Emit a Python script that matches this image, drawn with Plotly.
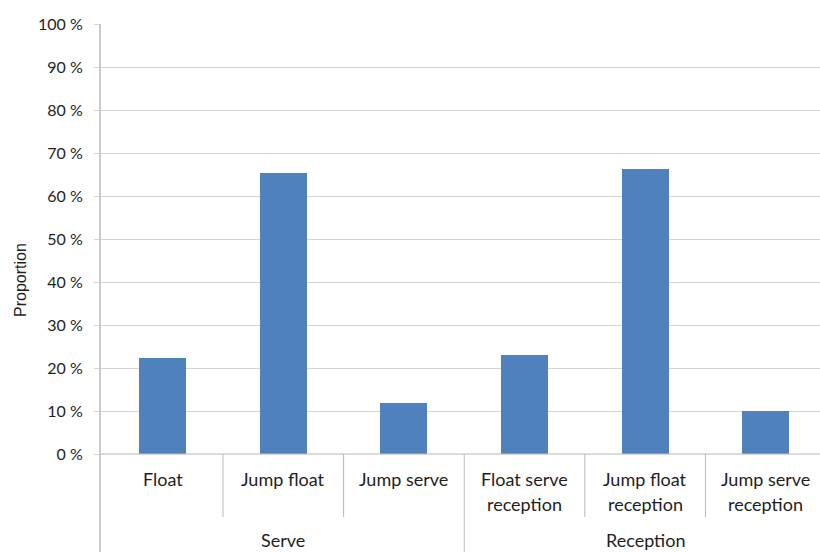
import plotly.graph_objects as go

# Serve / reception type proportions (%)
categories = ["Float", "Jump float", "Jump serve",
              "Float serve<br>reception", "Jump float<br>reception", "Jump serve<br>reception"]
proportions = [22.3, 65.4, 11.8, 23.0, 66.3, 10.1]
groups = ["Serve", "Reception"]
group_sizes = [3, 3]
y_ticks = list(range(0, 101, 10))
y_tick_text = [f"{v} %" for v in y_ticks]

W, H = 820, 552
ML, MT, MB = 100, 24, 98
plot_h = H - MT - MB

BAR = "#4F81BD"
GRID = "#d4d4d4"
AXIS = "#b8b8b8"
TXT = "#1e1e1e"
FONT = "Lato"

def py(px_from_top):
    """pixel row -> paper y"""
    return (H - MB - px_from_top) / plot_h

x_idx = list(range(len(categories)))

fig = go.Figure(go.Bar(
    x=x_idx, y=proportions, width=0.39,
    marker=dict(color=BAR, line=dict(width=0)),
))

shapes = []
annotations = []

# category labels
for i, cat in enumerate(categories):
    lines = cat.split("<br>")
    for j, ln in enumerate(lines):
        annotations.append(dict(
            x=i, y=py(479 + 25 * j), xref="x", yref="paper",
            text=ln, showarrow=False, xanchor="center", yanchor="middle",
            font=dict(family=FONT, size=18, color=TXT)))

# boundaries between categories (short) and between groups (long)
group_edges = []
acc = 0
for n in group_sizes:
    acc += n
    group_edges.append(acc)
for k in range(1, len(categories) + 1):
    long_line = k in group_edges
    shapes.append(dict(
        type="line", xref="x", yref="paper",
        x0=k - 0.5, x1=k - 0.5, y0=0, y1=py(H if long_line else 517),
        line=dict(color=AXIS, width=1)))

# group labels
start = 0
for g, n in zip(groups, group_sizes):
    annotations.append(dict(
        x=start + (n - 1) / 2, y=py(540), xref="x", yref="paper",
        text=g, showarrow=False, xanchor="center", yanchor="middle",
        font=dict(family=FONT, size=18, color=TXT)))
    start += n

# left axis line running down through the category area
shapes.append(dict(type="line", xref="paper", yref="paper",
                   x0=0, x1=0, y0=1, y1=py(H), line=dict(color=AXIS, width=1.5)))
# baseline
shapes.append(dict(type="line", xref="paper", yref="paper",
                   x0=0, x1=1, y0=0, y1=0, line=dict(color=AXIS, width=1)))

# y-axis title
annotations.append(dict(
    x=(20 - ML) / (W - ML), y=py(280), xref="paper", yref="paper",
    text="Proportion", textangle=-90, showarrow=False,
    xanchor="center", yanchor="middle",
    font=dict(family="Liberation Sans", size=16, color=TXT)))

fig.update_layout(
    width=W, height=H,
    margin=dict(l=ML, r=0, t=MT, b=MB),
    paper_bgcolor="white", plot_bgcolor="white",
    showlegend=False,
    bargap=0,
    xaxis=dict(range=[-0.52, 5.45], showticklabels=False, showgrid=False,
               zeroline=False, showline=False, ticks=""),
    yaxis=dict(range=[0, 100], tickmode="array", tickvals=y_ticks, ticktext=y_tick_text,
               showgrid=True, gridcolor=GRID, gridwidth=1,
               zeroline=False, showline=False,
               ticks="outside", ticklen=5, tickcolor=GRID, tickwidth=1,
               ticklabelstandoff=8,
               tickfont=dict(family=FONT, size=16, color=TXT)),
    shapes=shapes,
    annotations=annotations,
)

fig.write_html("out.html")
